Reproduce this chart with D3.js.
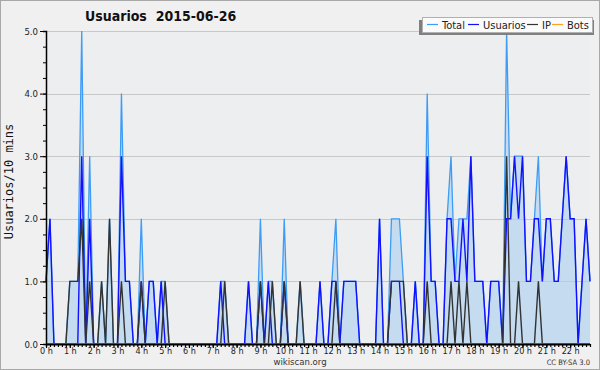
<!DOCTYPE html>
<html>
<head>
<meta charset="utf-8">
<script src="https://cdn.jsdelivr.net/npm/d3@7"></script>
<style>
  body { margin: 0; background: #fff; }
  svg { display: block; }
  text { font-family: "DejaVu Sans Condensed", "DejaVu Sans", sans-serif; }
</style>
</head>
<body>
<div id="chart"></div>
<script>
// one value every 10 minutes, from 0:00 to 22:50
let total = [
  1,2,0,0,0,0, 1,1,1,5,0,3, 0,0,1,0,2,0, 0,4,1,1,0,0,
  2,0,1,1,0,1, 1,0,0,0,0,0, 0,0,0,0,0,0, 0,0,1,1,0,0,
  0,0,0,1,0,0, 2,0,1,1,0,0, 2,0,0,0,1,0, 0,0,0,1,0,0,
  1,2,0,1,1,1, 1,0,0,0,0,0, 2,0,0,2,2,2, 1,0,0,1,0,0,
  4,1,1,0,0,2, 3,1,2,2,2,3, 1,1,1,0,1,1, 1,0,5,2,3,3,
  3,1,1,2,3,1, 2,2,1,1,2,3, 2,2,0,1,2,1
]
let usuarios = [
  1,2,0,0,0,0, 0,0,0,3,0,2, 0,0,0,0,0,0, 0,3,1,1,0,0,
  1,0,1,1,0,1, 0,0,0,0,0,0, 0,0,0,0,0,0, 0,0,1,0,0,0,
  0,0,0,1,0,0, 1,0,1,0,0,0, 1,0,0,0,0,0, 0,0,0,1,0,0,
  1,1,0,1,1,1, 1,0,0,0,0,0, 2,0,0,1,1,1, 0,0,0,1,0,0,
  3,1,1,0,0,2, 2,1,1,2,1,3, 1,1,1,0,1,1, 1,0,2,2,3,2,
  3,1,1,2,2,1, 2,2,1,1,2,3, 2,2,0,1,2,1
]
let ip = [
  0,0,0,0,0,0, 1,1,1,2,0,1, 0,0,1,0,2,0, 0,1,0,0,0,0,
  1,0,0,0,0,0, 1,0,0,0,0,0, 0,0,0,0,0,0, 0,0,0,1,0,0,
  0,0,0,0,0,0, 1,0,0,1,0,0, 1,0,0,0,1,0, 0,0,0,0,0,0,
  0,1,0,0,0,0, 0,0,0,0,0,0, 0,0,0,1,1,1, 1,0,0,0,0,0,
  1,0,0,0,0,0, 1,0,1,0,1,0, 0,0,0,0,0,0, 0,0,3,0,0,1,
  0,0,0,0,1,0, 0,0,0,0,0,0, 0,0,0,0,0,0
]
let bots = [
  0,0,0,0,0,0, 0,0,0,0,0,0, 0,0,0,0,0,0, 0,0,0,0,0,0,
  0,0,0,0,0,0, 0,0,0,0,0,0, 0,0,0,0,0,0, 0,0,0,0,0,0,
  0,0,0,0,0,0, 0,0,0,0,0,0, 0,0,0,0,0,0, 0,0,0,0,0,0,
  0,0,0,0,0,0, 0,0,0,0,0,0, 0,0,0,0,0,0, 0,0,0,0,0,0,
  0,0,0,0,0,0, 0,0,0,0,0,0, 0,0,0,0,0,0, 0,0,0,0,0,0,
  0,0,0,0,0,0, 0,0,0,0,0,0, 0,0,0,0,0,0
]
let hourTicks = [0,1,2,3,4,5,6,7,8,9,10,11,12,13,14,15,16,17,18,19,20,21,22]
let yTicks = [0, 1, 2, 3, 4, 5]
let seriesNames = ['Total', 'Usuarios', 'IP', 'Bots']
let seriesColors = ['#3d9cf5', '#1111ff', '#333333', '#ffa020']

var W = 600, H = 370
var margin = { top: 31, right: 10, bottom: 26, left: 46 }
var width = W - margin.left - margin.right
var height = H - margin.top - margin.bottom

var x = d3.scaleLinear()
  .domain([0, (total.length - 1) * 10])
  .range([0, width])

var y = d3.scaleLinear()
  .domain([0, 5])
  .range([height, 0])

var svg = d3.select('#chart').append('svg')
  .attr('width', W)
  .attr('height', H)

svg.append('rect')
  .attr('x', 0.5).attr('y', 0.5)
  .attr('width', W - 1).attr('height', H - 1)
  .attr('fill', '#f0f0f0')
  .attr('stroke', '#a8a8a8')

svg.append('text')
  .attr('x', 85).attr('y', 21)
  .style('white-space', 'pre')
  .style('font-weight', 'bold')
  .style('font-size', '14px')
  .attr('fill', '#111')
  .text('Usuarios  2015-06-26')

var g = svg.append('g')
  .attr('transform', 'translate(' + margin.left + ',' + margin.top + ')')

g.append('rect')
  .attr('width', width).attr('height', height)
  .attr('fill', '#edeef0')

// fill under total
var area = d3.area()
  .x(function (d, i) { return x(i * 10) })
  .y0(height)
  .y1(function (d) { return y(d) })

g.append('path')
  .datum(total)
  .attr('d', area)
  .attr('fill', '#c5dcf0')

// grid
g.selectAll('.grid')
  .data(yTicks.slice(1))
  .enter().append('line')
  .attr('class', 'grid')
  .attr('x1', 0).attr('x2', width)
  .attr('y1', function (d) { return Math.round(y(d)) + 0.5 })
  .attr('y2', function (d) { return Math.round(y(d)) + 0.5 })
  .attr('stroke', '#c8c8c8')

var line = d3.line()
  .x(function (d, i) { return x(i * 10) })
  .y(function (d) { return y(d) })

var allSeries = [total, usuarios, ip, bots]
allSeries.forEach(function (s, k) {
  g.append('path')
    .datum(s)
    .attr('d', line)
    .attr('fill', 'none')
    .attr('stroke', seriesColors[k])
    .attr('stroke-width', k == 0 ? 1.3 : 1.4)
})

// x axis
var xAxis = d3.axisBottom(x)
  .tickValues(d3.range(0, (total.length) * 10, 10))
  .tickSize(3)
  .tickFormat('')

var xg = g.append('g')
  .attr('transform', 'translate(0,' + height + ')')
  .call(xAxis)
xg.select('.domain').attr('stroke', '#000').attr('stroke-width', 2).attr('d', 'M0,0.5H' + width)
xg.selectAll('.tick line').attr('stroke', '#000').attr('stroke-width', 1.2)

var xLab = g.append('g')
  .attr('transform', 'translate(0,' + height + ')')
  .call(d3.axisBottom(x)
    .tickValues(hourTicks.map(function (h) { return h * 60 }))
    .tickSize(4)
    .tickFormat(function (d) { return (d / 60) + ' h' }))
xLab.select('.domain').remove()
xLab.selectAll('.tick line').attr('stroke', '#000').attr('stroke-width', 1.2)
xLab.selectAll('.tick text')
  .attr('y', 4)
  .attr('dy', '0.71em')
  .style('font-family', '"DejaVu Sans Condensed", "DejaVu Sans", sans-serif')
  .style('font-size', '9px')
  .attr('fill', '#222')

// y axis
var yMinor = g.append('g')
  .call(d3.axisLeft(y)
    .tickValues(d3.range(0, 5.01, 0.25))
    .tickSize(3)
    .tickFormat(''))
yMinor.select('.domain').attr('stroke', '#000').attr('stroke-width', 1.5)
yMinor.selectAll('.tick line').attr('stroke', '#000')

var yg = g.append('g')
  .call(d3.axisLeft(y)
    .tickValues(yTicks)
    .tickSize(6)
    .tickPadding(2)
    .tickFormat(d3.format('.1f')))
yg.select('.domain').remove()
yg.selectAll('.tick line').attr('stroke', '#000')
yg.selectAll('.tick text')
  .style('font-family', '"DejaVu Sans Condensed", "DejaVu Sans", sans-serif')
  .style('font-size', '9.5px')
  .attr('fill', '#222')

svg.append('text')
  .attr('transform', 'translate(13,' + (margin.top + height / 2 - 6) + ') rotate(-90)')
  .attr('text-anchor', 'middle')
  .style('font-family', '"DejaVu Sans Mono", monospace')
  .style('font-size', '12px')
  .attr('fill', '#111')
  .text('Usuarios/10 mins')

// legend
var lg = svg.append('g')
lg.append('rect')
  .attr('x', 419).attr('y', 20).attr('width', 175).attr('height', 15)
  .attr('fill', '#808080')
lg.append('rect')
  .attr('x', 422.5).attr('y', 17.5).attr('width', 170).attr('height', 15)
  .attr('fill', '#fbfbfb').attr('stroke', '#b0b0b0')

var legendX = [427, 468, 527, 552]
seriesNames.forEach(function (name, k) {
  lg.append('line')
    .attr('x1', legendX[k]).attr('x2', legendX[k] + 11)
    .attr('y1', 24.5).attr('y2', 24.5)
    .attr('stroke', seriesColors[k]).attr('stroke-width', 1.2)
  lg.append('text')
    .attr('x', legendX[k] + 15).attr('y', 28.5)
    .style('font-size', '11px')
    .attr('fill', '#222')
    .text(name)
})

svg.append('text')
  .attr('x', 300).attr('y', 365)
  .attr('text-anchor', 'middle')
  .style('font-size', '9.5px')
  .attr('fill', '#333')
  .text('wikiscan.org')

svg.append('text')
  .attr('x', 590).attr('y', 365)
  .attr('text-anchor', 'end')
  .style('font-size', '7.5px')
  .attr('fill', '#333')
  .text('CC BY-SA 3.0')
</script>
</body>
</html>
